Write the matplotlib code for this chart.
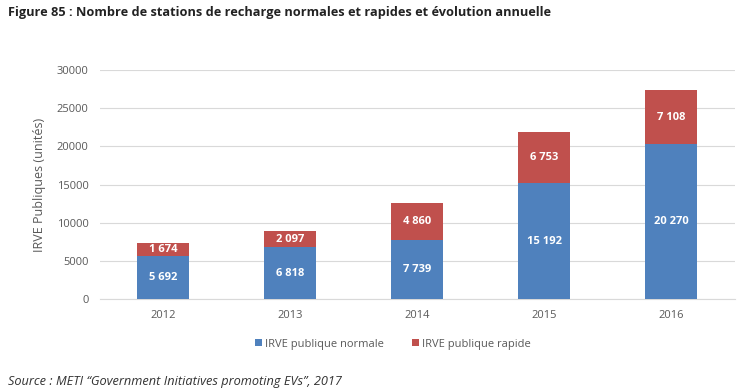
import matplotlib.pyplot as plt
import numpy as np

# data
years = ['2012', '2013', '2014', '2015', '2016']
normale = [5692, 6818, 7739, 15192, 20270]
rapide = [1674, 2097, 4860, 6753, 7108]
yticks = [0, 5000, 10000, 15000, 20000, 25000, 30000]

def fmt(v):
    return f'{v:,}'.replace(',', ' ')

plt.rcParams['font.family'] = ['Open Sans', 'DejaVu Sans']

fig = plt.figure(figsize=(7.56, 3.91), dpi=100)
ax = fig.add_axes([0.132, 0.235, 0.84, 0.586])

x = np.arange(len(years))
b1 = ax.bar(x, normale, width=0.41, color='#4F81BD', label='IRVE publique normale', zorder=3)
b2 = ax.bar(x, rapide, width=0.41, bottom=normale, color='#C0504D', label='IRVE publique rapide', zorder=3)

for i in range(len(years)):
    ax.text(x[i], normale[i] / 2, fmt(normale[i]), ha='center', va='center',
            color='white', fontsize=8, fontweight='bold', zorder=4)
    ax.text(x[i], normale[i] + rapide[i] / 2, fmt(rapide[i]), ha='center', va='center',
            color='white', fontsize=8, fontweight='bold', zorder=4)

ax.set_xlim(-0.5, len(years) - 0.5)
ax.set_ylim(0, 30000)
ax.set_yticks(yticks)
ax.set_xticks(x)
ax.set_xticklabels(years)
ax.grid(axis='y', color='#d9d9d9', linewidth=0.8, zorder=0)
for s in ['top', 'right', 'left']:
    ax.spines[s].set_visible(False)
ax.spines['bottom'].set_color('#d9d9d9')
ax.tick_params(axis='both', length=0, labelsize=8, colors='#595959', pad=8)
ax.set_ylabel('IRVE Publiques (unités)', fontsize=9, color='#595959', labelpad=8)

fig.legend(handles=[b1, b2], loc='center', bbox_to_anchor=(0.52, 0.12), ncol=2,
           frameon=False, fontsize=8, labelcolor='#595959', handlelength=0.6,
           handleheight=0.6, handletextpad=0.3, columnspacing=2.5)

fig.text(0.011, 0.968, 'Figure 85 : Nombre de stations de recharge normales et rapides et évolution annuelle',
         fontsize=9.2, fontweight='bold', color='#222222', va='center', ha='left')
fig.text(0.011, 0.025, 'Source : METI \u201cGovernment Initiatives promoting EVs\u201d, 2017',
         fontsize=9.2, style='italic', color='#333333', va='center', ha='left')

fig.savefig('out.png', dpi=100)
